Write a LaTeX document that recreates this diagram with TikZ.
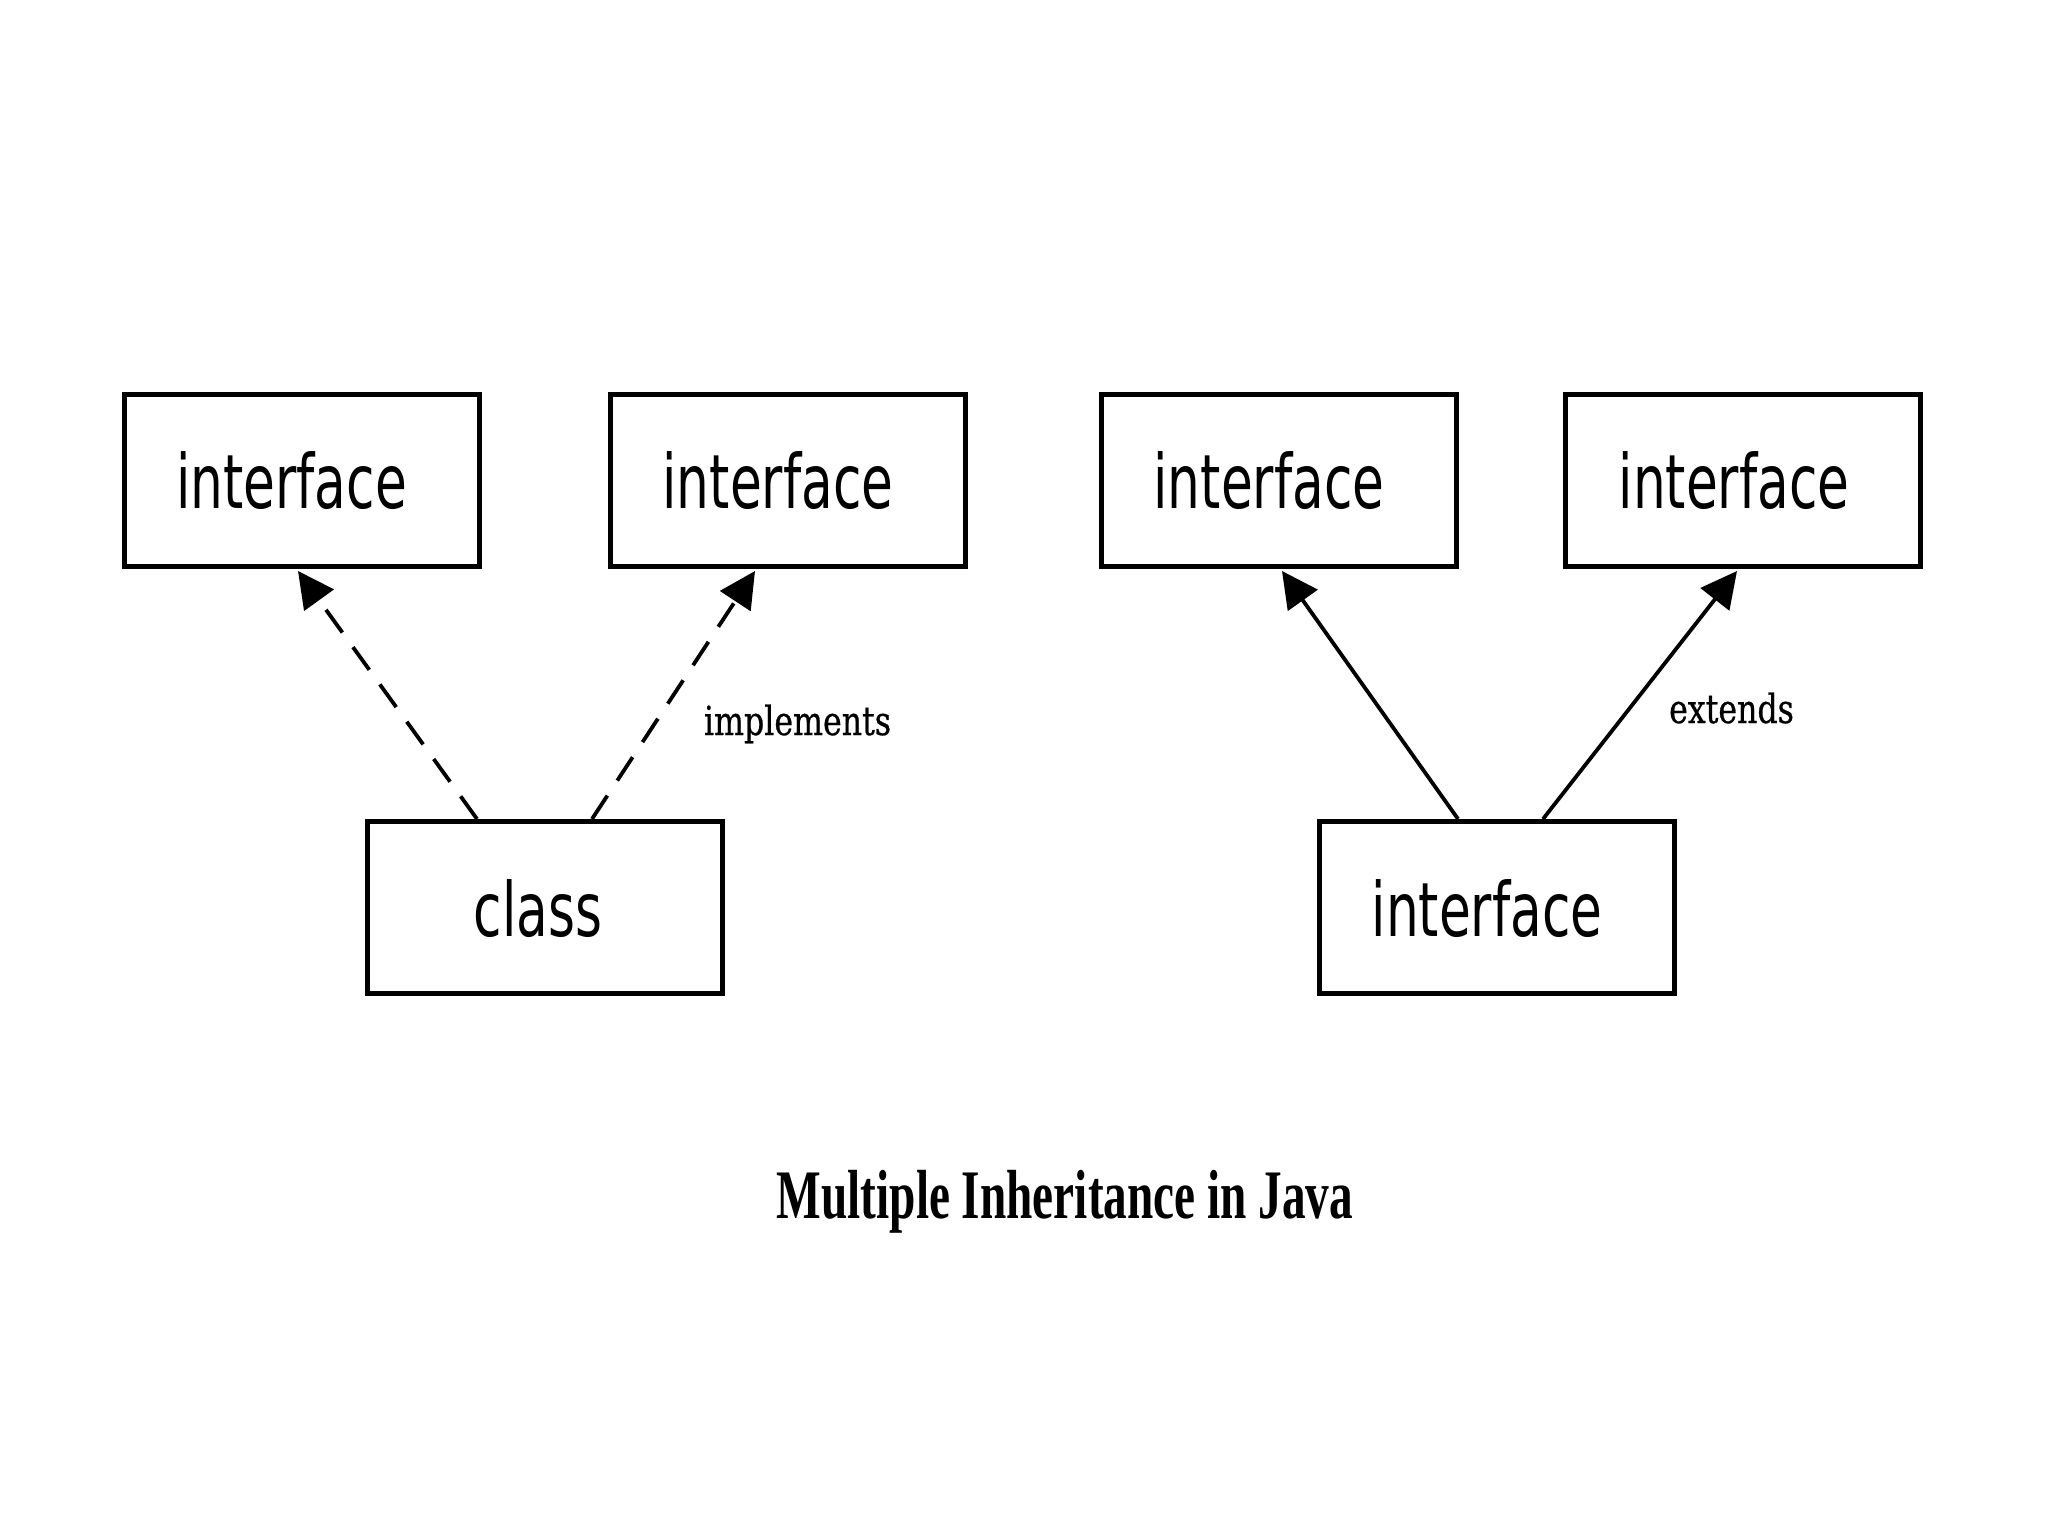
\documentclass[tikz,border=0pt]{standalone}
\usepackage{fontspec}
\usetikzlibrary{arrows.meta,calc}
\newfontfamily\boxfont[FakeStretch=0.69]{DejaVu Sans}
\newfontfamily\labelfont[FakeStretch=0.79,FakeBold=0.6]{DejaVu Serif}
\newfontfamily\titlefont[FakeStretch=0.68]{Liberation Serif}
\tikzset{
  umlbox/.style={draw=black, line width=5pt, minimum width=355pt, minimum height=172pt,
    inner sep=0pt, font=\boxfont\fontsize{75}{80}\selectfont, text depth=0pt},
  relarrow/.style={line width=3.8pt, -{Triangle[length=36pt,width=36pt]}},
  impl/.style={relarrow, dash pattern=on 28pt off 18pt},
  ext/.style={relarrow},
  rellabel/.style={anchor=base, inner sep=0pt, font=\labelfont\fontsize{40}{44}\selectfont},
  titlelabel/.style={anchor=base, inner sep=0pt, font=\titlefont\bfseries\fontsize{69.5}{74}\selectfont}
}
\begin{document}
\begin{tikzpicture}[x=1pt,y=-1pt]
\useasboundingbox (0,0) rectangle (2048,1536);
\fill[white] (0,0) rectangle (2048,1536);
% left diagram
\node[umlbox] (i1) at (301.5,480.5) {interface\kern20pt};
\node[umlbox] (i2) at (788,480.5) {interface\kern20pt};
\node[umlbox] (cls) at (545,907.5) {class\kern14pt};
% right diagram
\node[umlbox] (i3) at (1279,480.5) {interface\kern20pt};
\node[umlbox] (i4) at (1743,480.5) {interface\kern18pt};
\node[umlbox] (i5) at (1497,907.5) {interface\kern20pt};
% connectors
\draw[impl] ($(cls.north)+(-68,0)$) -- ($(i1.south)+(-3.5,2)$);
\draw[impl] ($(cls.north)+(47,0)$) -- ($(i2.south)+(-33,2)$);
\draw[ext] ($(i5.north)+(-39,0)$) -- ($(i3.south)+(3,2)$);
\draw[ext] ($(i5.north)+(46,0)$) -- ($(i4.south)+(-6,2)$);
% labels
\node[rellabel] (limpl) at (797.5,735) {implements};
\node[rellabel] (lext) at (1731.5,723) {extends};
\node[titlelabel] (title) at (1065,1218) {Multiple Inheritance in Java};
\end{tikzpicture}
\end{document}
